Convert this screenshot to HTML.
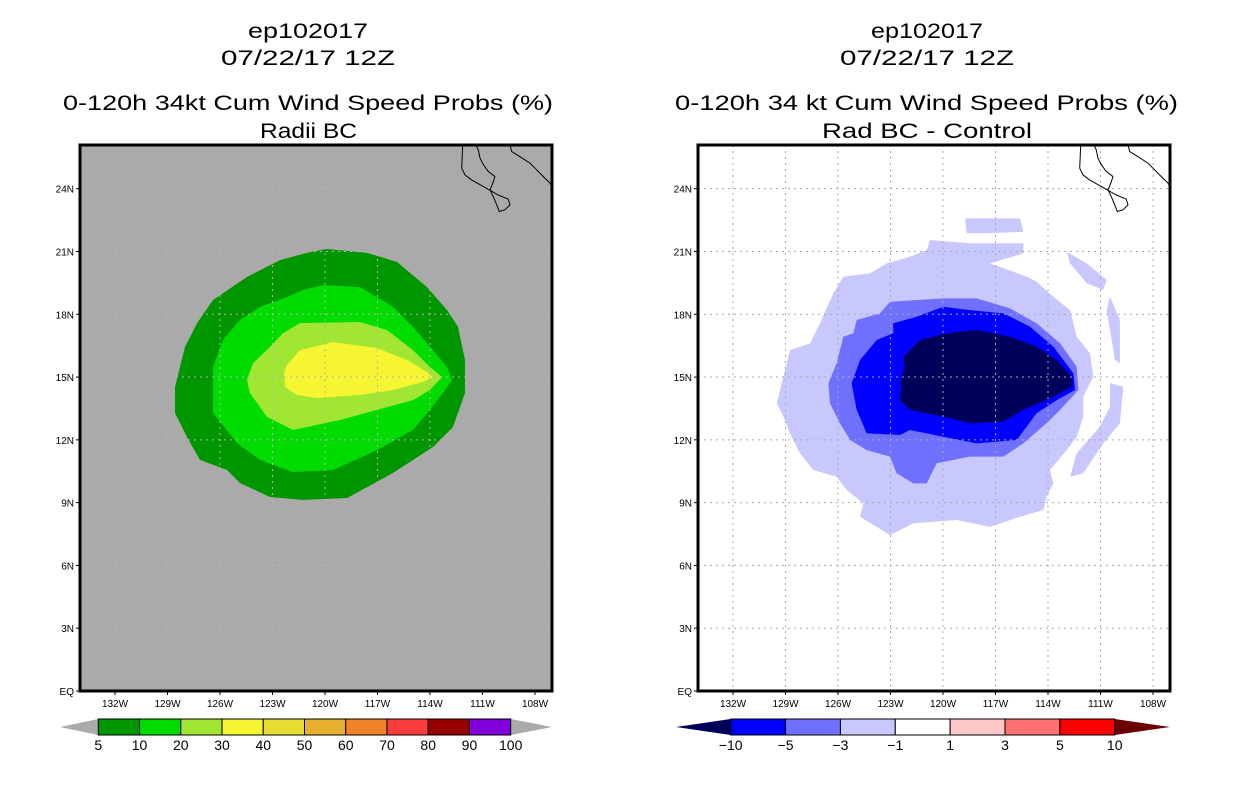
<!DOCTYPE html>
<html><head><meta charset="utf-8"><style>
html,body{margin:0;padding:0;background:#fff;}
svg{display:block;font-family:"Liberation Sans",sans-serif;}
</style></head><body>
<svg id="root" width="1236" height="800" viewBox="0 0 1236 800" xmlns="http://www.w3.org/2000/svg"></svg>
<script>
// ---- data ----
const lonTicks = [132,129,126,123,120,117,114,111,108];
const latTicks = [0,3,6,9,12,15,18,21,24];
const leftLevels = ['5','10','20','30','40','50','60','70','80','90','100'];
const leftColors = ['#009600','#00dc00','#a0e632','#f5f532','#e6dc32','#e6af2d','#f08228','#fa3c3c','#960000','#8200dc'];
const rightLevels = ['-10','-5','-3','-1','1','3','5','10'];
const rightColors = ['#00005a','#0000ff','#7070ff','#c8c8ff','#ffffff','#ffc8c8','#ff7070','#ff0000','#6a0000'];
// left contours: [lonW, latN]
const prob5 = [[119.89,21.12],[117.6,20.93],[115.89,20.5],[114.17,19.3],[113.03,18.2],[112.4,17.4],[112.0,15.81],[112.0,14.24],[112.69,12.61],[113.83,11.66],[116.11,10.42],[118.74,9.22],[121.26,9.13],[123.14,9.27],[124.86,9.94],[125.6,10.56],[127.14,11.04],[127.89,12.14],[128.57,13.28],[128.57,14.52],[128.0,16.44],[127.31,17.58],[126.4,18.68],[124.46,19.78],[122.57,20.59],[120.86,20.97]];
const prob10 = [[120.11,19.4],[118.0,19.3],[116.11,18.35],[114.97,17.39],[113.83,16.29],[113.03,15.48],[112.74,14.86],[113.26,14.24],[114.0,13.43],[114.97,12.47],[117.03,11.51],[119.54,10.56],[121.83,10.46],[123.71,11.04],[125.03,11.85],[126.4,13.28],[126.4,15.48],[125.83,16.77],[124.86,17.73],[123.71,18.35],[122.17,18.82],[121.26,19.16]];
const prob20 = [[121.43,17.58],[118.0,17.63],[116.46,17.25],[114.97,16.29],[114.0,15.48],[113.31,15.0],[114.0,14.38],[114.97,13.9],[117.03,13.43],[119.14,12.95],[121.83,12.47],[123.31,13.09],[124.29,14.24],[124.46,14.86],[124.11,15.67],[123.14,16.44],[122.4,17.1]];
const prob30 = [[122.17,15.58],[121.43,16.29],[119.54,16.67],[117.03,16.39],[115.31,15.81],[114.17,15.24],[113.83,15.0],[114.57,14.72],[116.11,14.38],[118.0,14.14],[120.46,14.0],[121.6,14.14],[122.29,14.52],[122.34,15.19]];
// right contours
const diffM1 = [[120.74,21.55],[118.46,21.39],[115.41,21.39],[115.41,20.91],[117.31,20.43],[115.22,19.8],[114.65,19.56],[113.69,18.84],[112.74,18.2],[112.36,16.93],[111.6,16.13],[111.41,15.02],[111.98,14.06],[111.98,13.11],[112.36,12.15],[112.93,11.51],[113.89,10.56],[113.7,9.92],[114.08,9.29],[114.27,8.65],[115.6,8.33],[117.31,7.85],[119.22,8.17],[121.7,8.01],[123.03,7.45],[124.74,8.33],[124.55,8.97],[125.5,9.6],[126.08,10.24],[127.41,10.56],[128.17,11.36],[128.74,12.31],[129.12,13.11],[129.5,13.74],[129.12,15.02],[128.74,16.29],[127.6,16.61],[127.03,17.57],[126.27,19.0],[125.7,19.8],[124.17,19.95],[123.22,20.43],[121.89,20.75],[120.93,21.07]];
const diffM1b = [[118.74,22.58],[115.6,22.58],[115.41,21.94],[117.5,21.87],[118.65,21.87]];
const diffM1c = [[112.93,20.99],[111.79,20.43],[110.65,19.64],[110.84,19.16],[111.79,19.48],[112.74,20.43]];
const diffM1d = [[110.46,18.84],[109.89,17.73],[109.89,15.66],[110.17,15.81],[110.65,18.2]];
const diffM1e = [[110.46,14.7],[109.7,14.54],[109.89,12.79],[110.84,11.83],[111.98,10.4],[112.74,10.24],[112.36,11.36],[111.03,12.63],[110.46,13.58]];
const diffM3 = [[123.03,18.6],[119.98,18.76],[118.08,18.76],[116.17,18.28],[114.65,17.57],[113.31,16.61],[112.36,15.5],[112.27,14.38],[113.31,13.43],[114.08,12.79],[115.41,11.83],[116.55,11.2],[118.46,11.2],[120.36,10.88],[120.93,9.92],[121.7,9.92],[122.65,10.4],[123.03,11.2],[124.36,11.51],[125.31,11.99],[125.89,12.79],[126.46,13.74],[126.55,14.7],[126.08,15.66],[125.7,16.93],[125.12,17.09],[124.93,17.73],[123.6,18.04]];
const diffM5 = [[122.84,17.57],[121.5,17.88],[119.98,18.36],[118.46,18.2],[116.55,18.04],[115.03,17.41],[113.69,16.45],[112.55,15.18],[112.46,14.38],[113.5,13.9],[114.65,13.27],[115.79,11.99],[118.08,11.83],[119.98,12.15],[121.89,12.47],[122.46,12.23],[124.36,12.31],[124.93,13.43],[125.22,14.7],[124.74,15.82],[123.79,16.77],[122.84,17.09]];
const diffM10 = [[122.27,15.97],[121.31,16.77],[119.79,17.09],[118.08,17.25],[116.17,16.93],[114.65,16.45],[113.5,15.81],[112.65,15.02],[112.65,14.54],[113.69,14.06],[115.41,13.43],[116.55,12.87],[118.46,12.79],[119.98,13.11],[121.89,13.43],[122.46,13.9],[122.36,15.02],[122.17,15.66]];
const bajaCoast = [[112.13,26.09],[112.19,24.98],[112.0,24.66],[111.62,24.42],[110.95,24.1],[110.1,23.7],[109.53,23.5],[109.43,23.23],[109.72,22.99],[110.04,22.91],[110.19,23.23],[110.34,23.54],[110.57,23.94],[110.38,24.34],[110.29,24.58],[110.67,24.82],[110.95,25.14],[111.14,25.45],[111.24,25.85],[111.37,26.09]];
const mainCoast = [[109.43,26.09],[109.33,25.77],[108.86,25.53],[108.29,25.22],[107.91,24.9],[107.53,24.58],[107.14,24.26],[107.0,24.02]];

// ---- helpers ----
const NS='http://www.w3.org/2000/svg';
const root=document.getElementById('root');
function mk(tag,attrs,parent){const e=document.createElementNS(NS,tag);for(const k in attrs)e.setAttribute(k,attrs[k]);(parent||root).appendChild(e);return e;}
const FW=472, FH=546, FT=145, PXLON=17.5, PXLAT=20.93;
function xs(left){return lon=>left+35+(132-lon)*PXLON;}
function ys(lat){return 691-lat*PXLAT;}
function pts(arr,x){return arr.map(p=>x(p[0]).toFixed(1)+','+ys(p[1]).toFixed(1)).join(' ');}

function panel(left,bg,name,gridCol,contours,titles,tw){
  const g=mk('g',{});
  
  
  const cid='clip'+left;
  const cp=mk('clipPath',{id:cid},g);mk('rect',{x:left,y:FT,width:FW,height:FH},cp);
  const bgr=mk('rect',{x:left,y:FT,width:FW,height:FH,fill:bg},g);
  
  
  const x=xs(left);
  const cg=mk('g',{'clip-path':'url(#'+cid+')'},g);
  contours.forEach(c=>{
    const p=mk('polygon',{points:pts(c.d,x),fill:c.f},cg);
    
    
  });
  // gridlines
  lonTicks.forEach(l=>{
    const ln=mk('line',{x1:x(l),x2:x(l),y1:FT,y2:FT+FH,stroke:gridCol,'stroke-width':1,'stroke-dasharray':'2,4'},cg);
    
    
  });
  latTicks.slice(1).forEach(l=>{
    const ln=mk('line',{x1:left,x2:left+FW,y1:ys(l),y2:ys(l),stroke:gridCol,'stroke-width':1,'stroke-dasharray':'2,4'},cg);
    
    
  });
  [bajaCoast,mainCoast].forEach(c=>{
    const pl=mk('polyline',{points:pts(c,x),fill:'none',stroke:'#000','stroke-width':1},cg);
    
    
  });
  const fr=mk('rect',{x:left,y:FT,width:FW,height:FH,fill:'none',stroke:'#000','stroke-width':3},g);
  
  
  lonTicks.forEach(l=>{
    mk('line',{x1:x(l),x2:x(l),y1:FT+FH,y2:FT+FH+4,stroke:'#000'},g);
    const t=mk('text',{x:x(l),y:707,'font-size':10,'text-anchor':'middle'},g);
    t.textContent=l+'W';
    
    
  });
  latTicks.forEach(l=>{
    mk('line',{x1:left-4,x2:left,y1:ys(l),y2:ys(l),stroke:'#000'},g);
    const t=mk('text',{x:left-6,y:ys(l)+4,'font-size':10,'text-anchor':'end'},g);
    t.textContent=l===0?'EQ':l+'N';
    
    
  });
  const bl=[38,65,110,138];
  titles.forEach((s,i)=>{
    const t=mk('text',{x:tw[i][0],y:bl[i],'font-size':21,textLength:tw[i][1],lengthAdjust:'spacingAndGlyphs'},g);
    t.textContent=s;
    
    
  });
}

panel(80,'#aaaaaa','left-map-panel','#b4b4b4',[
  {d:prob5,f:leftColors[0],n:'contour-5pct'},
  {d:prob10,f:leftColors[1],n:'contour-10pct'},
  {d:prob20,f:leftColors[2],n:'contour-20pct'},
  {d:prob30,f:leftColors[3],n:'contour-30pct'}],
  ['ep102017','07/22/17 12Z','0-120h 34kt Cum Wind Speed Probs (%)','Radii BC'],
  [[248,120],[221,174],[63,490],[260,97]]);

panel(698,'#ffffff','right-map-panel','#aaaaaa',[
  {d:diffM1,f:rightColors[3],n:'diff-minus1'},
  {d:diffM1b,f:rightColors[3],n:'diff-minus1-north'},
  {d:diffM1c,f:rightColors[3],n:'diff-minus1-ne'},
  {d:diffM1d,f:rightColors[3],n:'diff-minus1-east'},
  {d:diffM1e,f:rightColors[3],n:'diff-minus1-se'},
  {d:diffM3,f:rightColors[2],n:'diff-minus3'},
  {d:diffM5,f:rightColors[1],n:'diff-minus5'},
  {d:diffM10,f:rightColors[0],n:'diff-minus10'}],
  ['ep102017','07/22/17 12Z','0-120h 34 kt Cum Wind Speed Probs (%)','Rad BC - Control'],
  [[871,112],[840,174],[675,503],[822,210]]);

// ---- colorbars ----
function colorbar(x0,x1,tipL,tipR,colors,labels,name,endL,endR){
  const g=mk('g',{});
  
  
  const y0=719,y1=735,ym=727;
  const n=colors.length;const w=(x1-x0)/n;
  mk('polygon',{points:`${tipL},${ym} ${x0},${y0} ${x0},${y1}`,fill:endL},g);
  mk('polygon',{points:`${tipR},${ym} ${x1},${y0} ${x1},${y1}`,fill:endR},g);
  colors.forEach((c,i)=>{
    const r=mk('rect',{x:x0+i*w,y:y0,width:w,height:y1-y0,fill:c,stroke:'#000','stroke-width':1},g);
    
    
  });
  labels.forEach((s,i)=>{
    const t=mk('text',{x:x0+i*w,y:750,'font-size':14,'text-anchor':'middle'},g);
    t.textContent=s.replace('-','\u2212');
    
    
  });
}
colorbar(98.3,510.7,60,552,leftColors,leftLevels,'left-colorbar','#aaaaaa','#aaaaaa');
colorbar(730.7,1114.7,676,1170,rightColors.slice(1,8),rightLevels,'right-colorbar',rightColors[0],rightColors[8]);
</script>
</body></html>
